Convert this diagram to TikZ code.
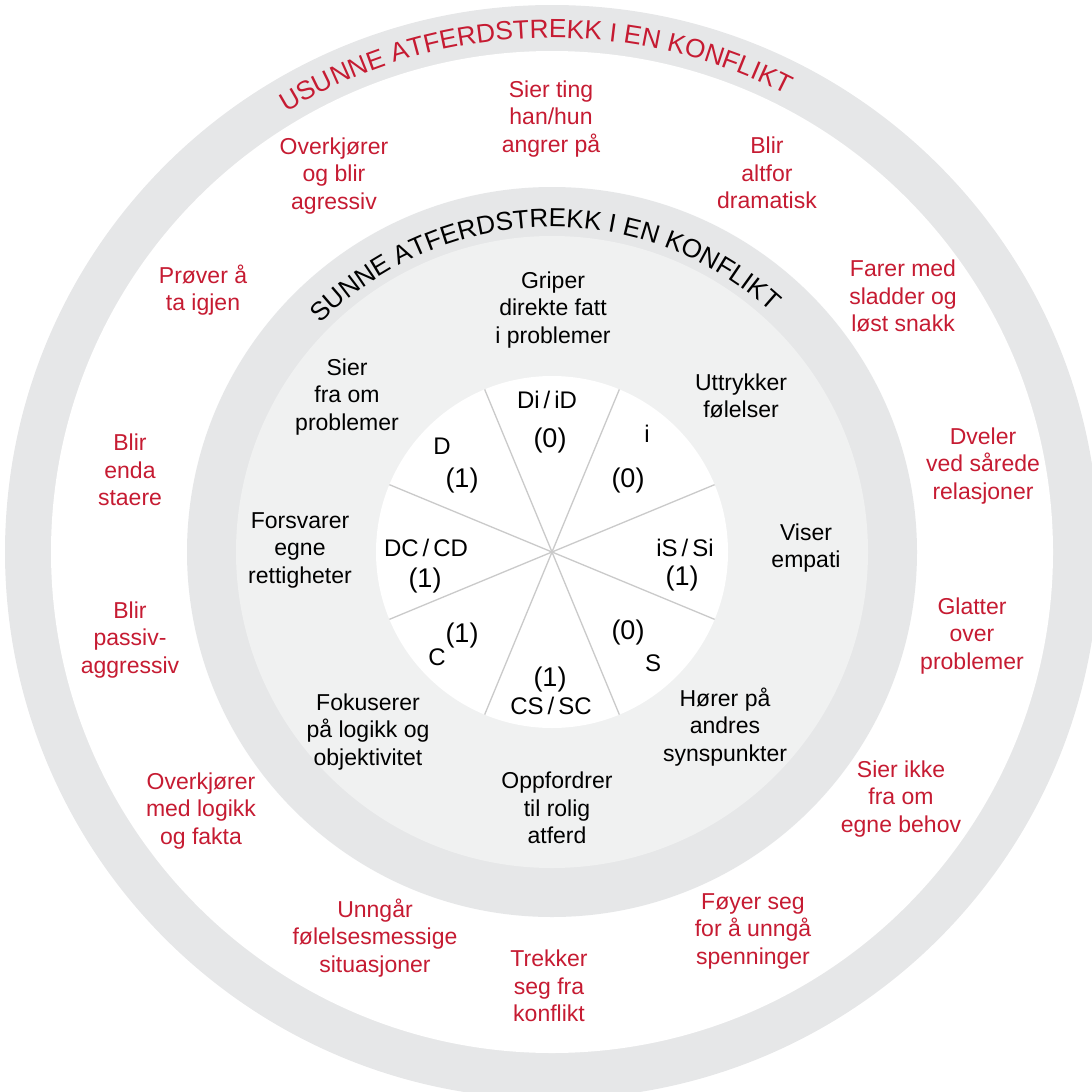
\documentclass[tikz,border=0pt]{standalone}
\usepackage{fontspec}
\setmainfont{Liberation Sans}
\usetikzlibrary{decorations.text}
\definecolor{ringgray}{RGB}{230,231,232}
\definecolor{discgray}{RGB}{240,241,241}
\definecolor{discred}{RGB}{198,27,50}
\definecolor{spokegray}{RGB}{202,202,202}
\begin{document}
\begin{tikzpicture}[x=1pt,y=1pt,
  lbl/.style={align=center, font=\fontsize{23}{27.5}\selectfont, text=black, inner sep=0pt},
  rlbl/.style={lbl, text=discred},
  dl/.style={font=\fontsize{24}{27}\selectfont, inner sep=0pt},
  num/.style={font=\fontsize{27}{27}\selectfont, inner sep=0pt},
  spoke/.style={draw=spokegray, line width=1.3pt}
]
\useasboundingbox (0,0) rectangle (1092,-1092);
\clip (0,0) rectangle (1092,-1092);
\coordinate (C) at (552,-552);
% rings and discs
\fill[ringgray] (C) circle[radius=547];
\fill[white] (C) circle[radius=501];
\fill[ringgray] (C) circle[radius=365];
\fill[discgray] (C) circle[radius=316];
\fill[white] (C) circle[radius=176];
% spokes
\foreach \a in {22.5,67.5,...,337.5}
  \draw[spoke] (C) -- ++(\a:176);
% arc titles
\path[shift={(C)}, decorate, decoration={text along path, text align=center,
  text={|\color{discred}\fontsize{26.3}{26}\selectfont|USUNNE ATFERDSTREKK I EN KONFLIKT}}]
  (172:514) arc[start angle=172, end angle=12, radius=514];
\path[shift={(C)}, decorate, decoration={text along path, text align=center,
  text={|\color{black}\fontsize{26}{26}\selectfont|SUNNE ATFERDSTREKK I EN KONFLIKT}}]
  (171.5:325) arc[start angle=171.5, end angle=11.5, radius=325];
% inner disc labels
\node[dl]  (diid)  at (547,-400) {Di\,/\,iD};
\node[num] (diidn) at (550,-441) {(0)};
\node[dl]  (ii)    at (647,-434) {i};
\node[num] (iin)   at (628,-481) {(0)};
\node[dl]  (iss)   at (685,-548) {iS\,/\,Si};
\node[num] (issn)  at (682,-579) {(1)};
\node[num] (sn)    at (628,-633) {(0)};
\node[dl]  (ss)    at (653,-663) {S};
\node[num] (csn)   at (550,-680) {(1)};
\node[dl]  (cs)    at (551,-706) {CS\,/\,SC};
\node[dl]  (cc)    at (437,-657) {C};
\node[num] (ccn)   at (462,-636) {(1)};
\node[dl]  (dc)    at (426,-548) {DC\,/\,CD};
\node[num] (dcn)   at (425,-581) {(1)};
\node[dl]  (dd)    at (442,-446) {D};
\node[num] (ddn)   at (462,-481) {(1)};
% healthy labels
\node[lbl] (h1) at (553,-310) {Griper\\direkte fatt\\i problemer};
\node[lbl] (h2) at (741,-396) {Uttrykker\\følelser};
\node[lbl] (h3) at (806,-548) {Viser\\empati};
\node[lbl] (h4) at (725,-727) {Hører på\\andres\\synspunkter};
\node[lbl] (h5) at (557,-808) {Oppfordrer\\til rolig\\atferd};
\node[lbl] (h6) at (368,-732) {Fokuserer\\på logikk og\\objektivitet};
\node[lbl] (h7) at (300,-550) {Forsvarer\\egne\\rettigheter};
\node[lbl] (h8) at (347,-397) {Sier\\fra om\\problemer};
% unhealthy labels
\node[rlbl] (u1)  at (551,-119) {Sier ting\\han/hun\\angrer på};
\node[rlbl] (u2)  at (767,-173) {Blir\\altfor\\dramatisk};
\node[rlbl] (u3)  at (903,-296) {Farer med\\sladder og\\løst snakk};
\node[rlbl] (u4)  at (983,-466) {Dveler\\ved sårede\\relasjoner};
\node[rlbl] (u5)  at (972,-636) {Glatter\\over\\problemer};
\node[rlbl] (u6)  at (901,-799) {Sier ikke\\fra om\\egne behov};
\node[rlbl] (u7)  at (753,-931) {Føyer seg\\for å unngå\\spenninger};
\node[rlbl] (u8)  at (549,-986) {Trekker\\seg fra\\konflikt};
\node[rlbl] (u9)  at (375,-938) {Unngår\\følelsesmessige\\situasjoner};
\node[rlbl] (u10) at (201,-811) {Overkjører\\med logikk\\og fakta};
\node[rlbl] (u11) at (130,-640) {Blir\\passiv-\\aggressiv};
\node[rlbl] (u12) at (130,-470) {Blir\\enda\\staere};
\node[rlbl] (u13) at (203,-290) {Prøver å\\ta igjen};
\node[rlbl] (u14) at (334,-176) {Overkjører\\og blir\\agressiv};
\end{tikzpicture}
\end{document}
